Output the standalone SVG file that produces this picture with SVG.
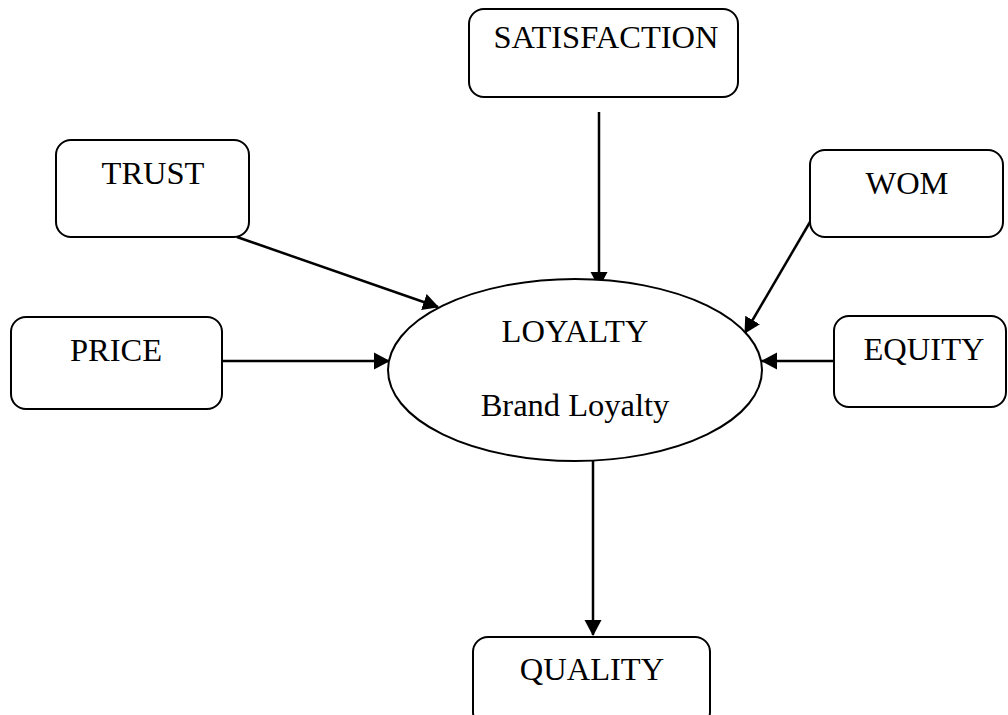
<svg xmlns="http://www.w3.org/2000/svg" width="1008" height="715" viewBox="0 0 1008 715">
<style>
.box{fill:#fff;stroke:#000;stroke-width:2}
.lbl{font-family:"Liberation Serif","Times New Roman",serif;font-size:32.5px;fill:#000;text-anchor:middle}
.conn{stroke:#000;stroke-width:2.5;fill:none}
</style>
<defs>
<marker id="ah" markerUnits="userSpaceOnUse" markerWidth="16" markerHeight="18" viewBox="0 0 16 18" refX="15" refY="9" orient="auto">
<path d="M0,0.5 L16,9 L0,17.5 Z" fill="#000"/>
</marker>
</defs>
<rect width="1008" height="715" fill="#fff"/>
<g id="connectors">
<line class="conn" x1="599" y1="112" x2="599" y2="287" marker-end="url(#ah)"/>
<line class="conn" x1="237" y1="237" x2="438" y2="307" marker-end="url(#ah)"/>
<line class="conn" x1="222" y1="361" x2="389" y2="361" marker-end="url(#ah)"/>
<line class="conn" x1="810" y1="222" x2="745" y2="333" marker-end="url(#ah)"/>
<line class="conn" x1="834" y1="361" x2="762" y2="361" marker-end="url(#ah)"/>
<line class="conn" x1="593" y1="457" x2="593" y2="635" marker-end="url(#ah)"/>
</g>
<g id="satisfaction">
<rect class="box" x="469" y="9" width="269" height="88" rx="15"/>
<text class="lbl" x="606" y="48">SATISFACTION</text>
</g>
<g id="trust">
<rect class="box" x="56" y="140" width="193" height="97" rx="15"/>
<text class="lbl" x="153" y="184">TRUST</text>
</g>
<g id="wom">
<rect class="box" x="810" y="150" width="193" height="87" rx="15"/>
<text class="lbl" x="907" y="194">WOM</text>
</g>
<g id="price">
<rect class="box" x="11" y="317" width="211" height="92" rx="15"/>
<text class="lbl" x="116" y="361">PRICE</text>
</g>
<g id="equity">
<rect class="box" x="834" y="316" width="172" height="91" rx="15"/>
<text class="lbl" x="924" y="360">EQUITY</text>
</g>
<g id="loyalty">
<ellipse cx="575" cy="370" rx="187" ry="91" fill="#fff" stroke="#000" stroke-width="2"/>
<text class="lbl" x="575" y="342">LOYALTY</text>
<text class="lbl" x="575" y="416">Brand Loyalty</text>
</g>
<g id="quality">
<rect class="box" x="473" y="637" width="237" height="90" rx="15"/>
<text class="lbl" x="592" y="680">QUALITY</text>
</g>
</svg>
